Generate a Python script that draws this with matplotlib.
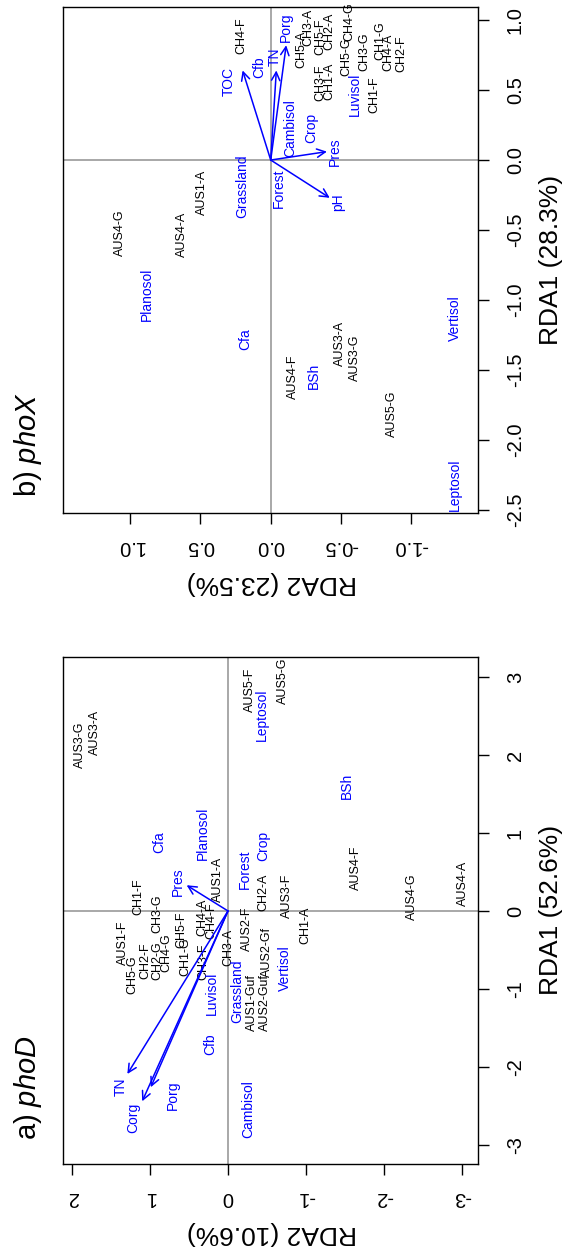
import matplotlib
matplotlib.use('Agg')
import matplotlib.pyplot as plt
from matplotlib.ticker import FormatStrFormatter

plt.rcParams['font.family'] = ['Liberation Sans', 'DejaVu Sans']
plt.rcParams['mathtext.fontset'] = 'custom'
plt.rcParams['mathtext.rm'] = 'Liberation Sans'
plt.rcParams['mathtext.it'] = 'Liberation Sans:italic'
plt.rcParams['axes.unicode_minus'] = False

# ---- panel a) phoD ----
a_sites = ['AUS3-G', 'AUS3-A', 'AUS5-F', 'AUS5-G', 'AUS1-A', 'CH1-F', 'CH3-G', 'CH5-F',
           'CH4-A', 'CH4-F', 'AUS1-F', 'CH5-G', 'CH2-F', 'CH2-G', 'CH4-G', 'CH1-G',
           'CH3-F', 'CH3-A', 'AUS2-F', 'CH2-A', 'AUS3-F', 'AUS2-Gf', 'CH1-A', 'AUS4-F',
           'AUS4-G', 'AUS4-A', 'AUS1-Guf', 'AUS2-Guf']
a_sites_rda1 = [2.13, 2.29, 2.83, 2.95, 0.40, 0.18, -0.04, -0.24,
                -0.08, -0.13, -0.41, -0.82, -0.64, -0.64, -0.54, -0.58,
                -0.65, -0.47, -0.23, 0.24, 0.20, -0.53, -0.19, 0.55,
                0.18, 0.36, -1.17, -1.17]
a_sites_rda2 = [1.90, 1.71, -0.28, -0.70, 0.13, 1.15, 0.90, 0.60,
                0.33, 0.21, 1.35, 1.22, 1.06, 0.90, 0.79, 0.55,
                0.32, 0.00, -0.24, -0.46, -0.76, -0.50, -0.99, -1.64,
                -2.36, -3.01, -0.31, -0.47]

a_factors = ['Leptosol', 'BSh', 'Planosol', 'Cfa', 'Crop', 'Forest', 'Grassland',
             'Vertisol', 'Luvisol', 'Cfb', 'Cambisol']
a_factors_rda1 = [2.51, 1.60, 0.99, 0.88, 0.83, 0.54, -1.03, -0.73, -1.05, -1.71, -2.54]
a_factors_rda2 = [-0.44, -1.53, 0.32, 0.88, -0.45, -0.22, -0.12, -0.73, 0.21, 0.23, -0.26]

a_vars = ['Pres', 'TN', 'Corg', 'Porg']
a_vars_rda1 = [0.33, -2.09, -2.44, -2.26]
a_vars_rda2 = [0.53, 1.29, 1.10, 0.99]
a_vars_lab_rda1 = [0.38, -2.26, -2.65, -2.36]
a_vars_lab_rda2 = [0.64, 1.38, 1.22, 0.71]

# ---- panel b) phoX ----
b_sites = ['CH4-F', 'AUS1-A', 'AUS4-A', 'AUS4-G', 'AUS4-F', 'AUS3-A', 'AUS3-G', 'AUS5-G',
           'CH5-A', 'CH3-A', 'CH5-F', 'CH2-A', 'CH4-G', 'CH3-F', 'CH1-A', 'CH5-G',
           'CH3-G', 'CH1-F', 'CH1-G', 'CH4-A', 'CH2-F']
b_sites_rda1 = [0.89, -0.23, -0.53, -0.52, -1.55, -1.31, -1.41, -1.81,
                0.79, 0.95, 0.88, 0.92, 0.99, 0.55, 0.56, 0.74,
                0.77, 0.47, 0.85, 0.77, 0.76]
b_sites_rda2 = [0.21, 0.49, 0.63, 1.07, -0.16, -0.49, -0.60, -0.86,
                -0.22, -0.27, -0.35, -0.42, -0.56, -0.35, -0.42, -0.54,
                -0.67, -0.74, -0.78, -0.84, -0.93]

b_factors = ['Cfb', 'Cambisol', 'Crop', 'Forest', 'Grassland', 'Luvisol', 'Planosol',
             'Cfa', 'BSh', 'Vertisol', 'Leptosol']
b_factors_rda1 = [0.66, 0.23, 0.23, -0.20, -0.19, 0.47, -0.96, -1.28, -1.54, -1.13, -2.32]
b_factors_rda2 = [0.08, -0.14, -0.29, -0.06, 0.20, -0.60, 0.88, 0.18, -0.31, -1.31, -1.31]

b_vars = ['TOC', 'TN', 'Porg', 'Pres', 'pH']
b_vars_rda1 = [0.64, 0.64, 0.82, 0.06, -0.27]
b_vars_rda2 = [0.20, -0.04, -0.11, -0.40, -0.42]
b_vars_lab_rda1 = [0.56, 0.74, 0.95, 0.06, -0.30]
b_vars_lab_rda2 = [0.30, -0.03, -0.11, -0.46, -0.48]

W, H = 566, 1253
fig = plt.figure(figsize=(W / 100, H / 100), dpi=100)


def px_axes(left, top, right, bottom):
    return fig.add_axes([left / W, 1 - bottom / H, (right - left) / W, (bottom - top) / H])


def biplot(ax, sites, s1, s2, facs, f1, f2, vars_, v1, v2, l1, l2):
    ax.axhline(0, color='#9a9a9a', lw=1.2, zorder=1)
    ax.axvline(0, color='#9a9a9a', lw=1.2, zorder=1)
    for name, y, x in zip(sites, s1, s2):
        ax.text(x, y, name, rotation=90, ha='center', va='center', fontsize=9, color='black')
    for name, y, x in zip(facs, f1, f2):
        ax.text(x, y, name, rotation=90, ha='center', va='center', fontsize=10, color='blue')
    for name, y, x, ly, lx in zip(vars_, v1, v2, l1, l2):
        ax.annotate('', xy=(x, y), xytext=(0, 0),
                    arrowprops=dict(arrowstyle='->,head_length=0.6,head_width=0.3',
                                    color='blue', lw=1.1, shrinkA=0, shrinkB=0))
        ax.text(lx, ly, name, rotation=90, ha='center', va='center', fontsize=10, color='blue')
    ax.yaxis.tick_right()
    ax.tick_params(axis='y', direction='out', length=8, width=1, pad=12,
                   labelsize=14.5, labelrotation=90)
    ax.tick_params(axis='x', direction='out', length=8, width=1, pad=9,
                   labelsize=14.5, labelrotation=180)
    for lbl in ax.get_yticklabels():
        lbl.set_verticalalignment('center')
    for sp in ax.spines.values():
        sp.set_linewidth(1.0)


# panel a
ax_a = px_axes(63, 657, 478, 1164)
ax_a.set_xlim(2.115, -3.205)
ax_a.set_ylim(-3.244, 3.256)
ax_a.set_xticks([2, 1, 0, -1, -2, -3])
ax_a.set_yticks([-3, -2, -1, 0, 1, 2, 3])
biplot(ax_a, a_sites, a_sites_rda1, a_sites_rda2, a_factors, a_factors_rda1, a_factors_rda2,
       a_vars, a_vars_rda1, a_vars_rda2, a_vars_lab_rda1, a_vars_lab_rda2)

# panel b
ax_b = px_axes(63, 7, 478, 513)
ax_b.set_xlim(1.478, -1.475)
ax_b.set_ylim(-2.521, 1.093)
ax_b.set_xticks([1.0, 0.5, 0.0, -0.5, -1.0])
ax_b.set_yticks([-2.5, -2.0, -1.5, -1.0, -0.5, 0.0, 0.5, 1.0])
ax_b.xaxis.set_major_formatter(FormatStrFormatter('%.1f'))
ax_b.yaxis.set_major_formatter(FormatStrFormatter('%.1f'))
biplot(ax_b, b_sites, b_sites_rda1, b_sites_rda2, b_factors, b_factors_rda1, b_factors_rda2,
       b_vars, b_vars_rda1, b_vars_rda2, b_vars_lab_rda1, b_vars_lab_rda2)

# axis labels and panel titles
fig.text(551 / W, 1 - 910 / H, 'RDA1 (52.6%)', rotation=90, ha='center', va='center', fontsize=19)
fig.text(272 / W, 1 - 1233 / H, 'RDA2 (10.6%)', rotation=180, ha='center', va='center', fontsize=19)
fig.text(551 / W, 1 - 260 / H, 'RDA1 (28.3%)', rotation=90, ha='center', va='center', fontsize=19)
fig.text(272 / W, 1 - 583 / H, 'RDA2 (23.5%)', rotation=180, ha='center', va='center', fontsize=19)
fig.text(28 / W, 1 - 1140 / H, r'a) $\it{phoD}$', rotation=90, ha='center', va='bottom', fontsize=21)
fig.text(28 / W, 1 - 497 / H, r'b) $\it{phoX}$', rotation=90, ha='center', va='bottom', fontsize=21)

fig.savefig('out.png', dpi=100)
